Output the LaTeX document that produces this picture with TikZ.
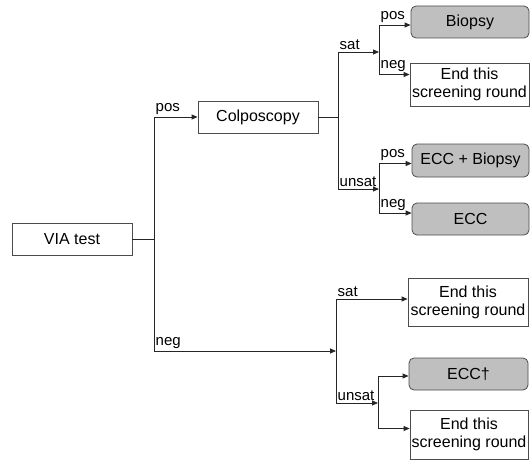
\documentclass[tikz,border=0pt]{standalone}
\usepackage{fontspec}
\setmainfont{Liberation Sans}
\usetikzlibrary{
		arrows.meta,
		positioning
	}
\tikzset{
		>={Triangle[length=6pt,width=5pt]},
		box/.style={draw=black!70, line width=0.8pt, align=center, inner sep=0pt,
			font=\fontsize{16}{18}\selectfont},
		greybox/.style={box, fill=black!25, rounded corners=5pt},
		lbl/.style={anchor=south west, inner xsep=1.5pt, inner ysep=2.5pt,
			font=\fontsize{15}{17}\selectfont},
		conn/.style={draw=black!85, line width=0.8pt}
	}

\begin{document}
\begin{tikzpicture}[x=1pt,y=-1pt]
              \useasboundingbox (0,0) rectangle (530,460);

              % the boxes
              \node[box, minimum width=120pt, minimum height=32pt] (via) at (72,239) {VIA test};
              \node[box, minimum width=120pt, minimum height=32pt] (colpo) at (258,117) {Colposcopy};
              \node[greybox, minimum width=118pt, minimum height=32pt] (biopsy) at (470,22) {Biopsy};
              \node[box, minimum width=119pt, minimum height=43pt] (end1) at (469.5,84.5) {End this\\screening round};
              \node[greybox, minimum width=117pt, minimum height=33pt] (eccb) at (470.5,160.5) {ECC + Biopsy};
              \node[greybox, minimum width=117pt, minimum height=32pt] (ecc) at (470.5,219) {ECC};
              \node[box, minimum width=120pt, minimum height=48pt] (end2) at (468,302) {End this\\screening round};
              \node[greybox, minimum width=119pt, minimum height=32pt] (eccd) at (468.5,374) {ECC†};
              \node[box, minimum width=118pt, minimum height=49pt] (end3) at (469,434.5) {End this\\screening round};

              % the branch points (here I just create coordinates to use them later on for the arrows)
              \coordinate (j0) at (154,239);
              \coordinate (j1) at (338,117);
              \coordinate (j2) at (379,52);
              \coordinate (j3) at (379,189);
              \coordinate (j4) at (336,351);
              \coordinate (j5) at (378,403);

              % draw the arrows
              \draw[conn] (via) -- (j0);
              \draw[conn,->] (j0) |- (colpo);
              \draw[conn,->] (j0) |- (j4);
              \draw[conn] (colpo) -- (j1);
              \draw[conn,->] (j1) |- (j2);
              \draw[conn,->] (j1) |- (j3);
              \draw[conn,->] (j2) |- ([yshift=-3pt]biopsy.west);
              \draw[conn,->] (j2) |- ([yshift=10pt]end1.west);
              \draw[conn,->] (j3) |- ([yshift=-3pt]eccb.west);
              \draw[conn,->] (j3) |- ([yshift=6pt]ecc.west);
              \draw[conn,->] (j4) |- ([yshift=3pt]end2.west);
              \draw[conn,->] (j4) |- (j5);
              \draw[conn,->] (j5) |- ([yshift=-2pt]eccd.west);
              \draw[conn,->] (j5) |- ([yshift=6pt]end3.west);

              % the texts
              \node[lbl] (pos0) at (j0 |- colpo.west) {pos};
              \node[lbl] (neg0) at (j0 |- j4) {neg};
              \node[lbl] (sat1) at (j1 |- j2) {sat};
              \node[lbl] (unsat1) at (j1 |- j3) {unsat};
              \node[lbl] (pos2) at ([yshift=-3pt]j2 |- biopsy.west) {pos};
              \node[lbl] (neg2) at ([yshift=10pt]j2 |- end1.west) {neg};
              \node[lbl] (pos3) at ([yshift=-3pt]j3 |- eccb.west) {pos};
              \node[lbl] (neg3) at ([yshift=6pt]j3 |- ecc.west) {neg};
              \node[lbl] (sat4) at ([yshift=3pt]j4 |- end2.west) {sat};
              \node[lbl] (unsat4) at (j4 |- j5) {unsat};

          \end{tikzpicture}
\end{document}
